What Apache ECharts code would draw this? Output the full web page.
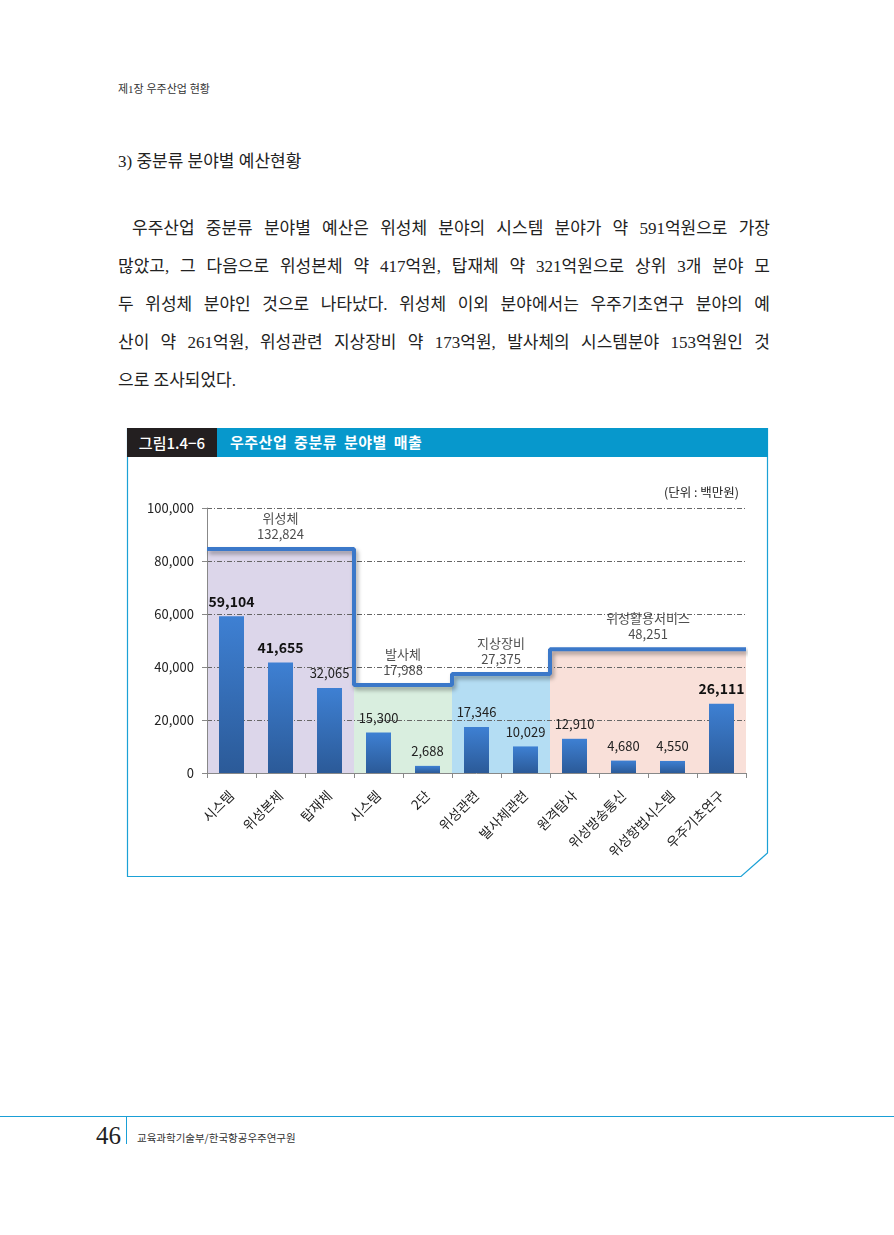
<!DOCTYPE html>
<html>
<head>
<meta charset="utf-8">
<script src="https://cdn.jsdelivr.net/npm/echarts@6/dist/echarts.min.js"></script>
<style>
  html, body { margin: 0; padding: 0; background: #fff; }
  body { width: 894px; height: 1235px; position: relative; overflow: hidden;
         font-family: "Liberation Serif", "Noto Sans CJK KR", serif; color: #222; }
  .abs { position: absolute; white-space: nowrap; }
  .hdr { left: 118px; top: 80px; font-size: 11px; color: #333; }
  .h3 { left: 118px; top: 147px; font-size: 17px; color: #222; }
  .line { position: absolute; left: 118px; width: 652px; font-size: 17px; color: #222;
          text-align: justify; text-align-last: justify; white-space: nowrap; height: 24px; line-height: 24px; }
  .line.last { text-align-last: left; }
  #titlebar { position: absolute; left: 127px; top: 428px; width: 641px; height: 29px; background: #0798cc; }
  #tlabel { position: absolute; left: 0; top: 0; width: 90px; height: 29px; background: #231f20; color: #fff;
            font-family: "Noto Sans CJK KR", sans-serif; font-size: 15px; font-weight: 500; line-height: 29px; text-align: center; }
  #ttext { position: absolute; left: 103px; top: 0; height: 29px; color: #fff; line-height: 28px;
           font-family: "Noto Sans CJK KR", sans-serif; font-size: 15px; font-weight: bold; letter-spacing: 0.5px; word-spacing: 3px; }
  #chart { position: absolute; left: 128px; top: 458px; width: 638px; height: 417px; }
  #footline { position: absolute; left: 0; top: 1116px; width: 894px; height: 1px; background: #1a9fd6; }
  #footv { position: absolute; left: 126px; top: 1116px; width: 1px; height: 28px; background: #1a9fd6; }
  .pnum { left: 96px; top: 1122px; font-size: 25px; color: #222; }
  .ftxt { left: 137px; top: 1130px; font-size: 10.5px; color: #333; font-family: "Noto Sans CJK KR", sans-serif; }
</style>
</head>
<body>
<div class="abs hdr">제1장 우주산업 현황</div>
<div class="abs h3">3) 중분류 분야별 예산현황</div>
<div class="line" style="top:217px; padding-left:14px; width:638px;">우주산업 중분류 분야별 예산은 위성체 분야의 시스템 분야가 약 591억원으로 가장</div>
<div class="line" style="top:255px;">많았고, 그 다음으로 위성본체 약 417억원, 탑재체 약 321억원으로 상위 3개 분야 모</div>
<div class="line" style="top:293px;">두 위성체 분야인 것으로 나타났다. 위성체 이외 분야에서는 우주기초연구 분야의 예</div>
<div class="line" style="top:331px;">산이 약 261억원, 위성관련 지상장비 약 173억원, 발사체의 시스템분야 153억원인 것</div>
<div class="line last" style="top:369px;">으로 조사되었다.</div>

<svg class="abs" style="left:0;top:0;" width="894" height="1235">
  <polygon points="127.5,428.5 767.5,428.5 767.5,853 741,876.5 127.5,876.5" fill="#fff" stroke="#1ba1d6" stroke-width="1.2"/>
</svg>
<div id="titlebar"><div id="tlabel">그림1.4−6</div><div id="ttext">우주산업 중분류 분야별 매출</div></div>
<div id="chart"></div>

<div id="footline"></div>
<div id="footv"></div>
<div class="abs pnum">46</div>
<div class="abs ftxt">교육과학기술부/한국항공우주연구원</div>

<script>
// ---- data ----
const categories = ['시스템','위성본체','탑재체','시스템','2단','위성관련','발사체관련','원격탐사','위성방송통신','위성항법시스템','우주기초연구'];
const values = [59104, 41655, 32065, 15300, 2688, 17346, 10029, 12910, 4680, 4550, 26111];
const groupNames = ['위성체', '발사체', '지상장비', '위성활용서비스'];
const groupSizes = [3, 2, 2, 4];
const groupTotals = [132824, 17988, 27375, 48251];
const yTickValues = [0, 20000, 40000, 60000, 80000, 100000];
const unitLabel = '(단위 : 백만원)';

// ---- styling ----
const FONT = '"Noto Sans CJK KR", "Noto Sans", sans-serif';
const shadeColors = ['#dcd6ea', '#d9eedf', '#b4ddf3', '#f9e0d9'];
const boldIdx = [0, 1, 10];
const fmt = v => Math.round(v).toLocaleString('en-US');

// group boundaries
const bounds = [0];
groupSizes.forEach(s => bounds.push(bounds[bounds.length - 1] + s));

const stepData = [];
groupTotals.forEach((t, i) => { stepData.push([bounds[i], t]); stepData.push([bounds[i + 1], t]); });

const shadeSeries = groupTotals.map((t, i) => ({
  type: 'line', xAxisIndex: 1, yAxisIndex: 1, z: -1, silent: true,
  data: [[bounds[i], t], [bounds[i + 1], t]],
  symbol: 'none', lineStyle: { width: 0 },
  areaStyle: { color: shadeColors[i], opacity: 1, origin: 'start' }
}));

const chart = echarts.init(document.getElementById('chart'), null, { renderer: 'canvas' });
chart.setOption({
  animation: false,
  title: { text: unitLabel, right: 22, top: 23, textStyle: { fontFamily: FONT, fontSize: 12.5, fontWeight: 'normal', color: '#222' } },
  grid: { left: 79, right: 20, top: 50, bottom: 102 },
  xAxis: [
    { type: 'category', data: categories,
      axisLine: { lineStyle: { color: '#888' } },
      axisTick: { show: true, length: 5, lineStyle: { color: '#888' } },
      axisLabel: { interval: 0, rotate: 45, margin: 20, fontFamily: FONT, fontSize: 13.5, color: '#222' } },
    { type: 'value', min: 0, max: categories.length, show: false }
  ],
  yAxis: [
    { type: 'value', min: yTickValues[0], max: yTickValues[yTickValues.length - 1], interval: yTickValues[1] - yTickValues[0],
      axisLine: { show: true, lineStyle: { color: '#888' } },
      axisTick: { show: true, length: 5, lineStyle: { color: '#888' } },
      axisLabel: { margin: 13, fontFamily: FONT, fontSize: 13, color: '#222', formatter: v => fmt(v) },
      splitLine: { show: true, lineStyle: { color: '#666', width: 1, type: [5, 2, 1, 2] } } },
    { type: 'value', min: -56300, max: 167500, show: false, splitLine: { show: false } }
  ],
  series: [
    ...shadeSeries,
    { type: 'bar', xAxisIndex: 0, yAxisIndex: 0, barWidth: 25, z: 3,
      data: values.map((v, i) => ({
        value: v,
        label: boldIdx.includes(i) ? { fontWeight: 'bold', fontSize: 14, color: '#111' } : {}
      })),
      itemStyle: { color: new echarts.graphic.LinearGradient(0, 0, 0, 1, [
        { offset: 0, color: '#3e80d3' }, { offset: 1, color: '#2b5a98' }]) },
      label: { show: true, position: 'top', distance: 8, fontFamily: FONT, fontSize: 13, color: '#222',
               formatter: p => fmt(p.value) } },
    { type: 'line', xAxisIndex: 1, yAxisIndex: 1, z: 4, data: stepData, symbol: 'none',
      lineStyle: { color: '#3b78c9', width: 4, shadowColor: 'rgba(0,0,0,0.35)', shadowBlur: 4, shadowOffsetX: 2, shadowOffsetY: 3 } },
    { type: 'scatter', xAxisIndex: 1, yAxisIndex: 1, z: 5, symbolSize: 2, itemStyle: { color: 'rgba(0,0,0,0)' },
      data: groupTotals.map((t, i) => ({ name: groupNames[i], value: [(bounds[i] + bounds[i + 1]) / 2, t] })),
      label: { show: true, position: 'top', distance: 6, fontFamily: FONT, fontSize: 13, color: '#222', lineHeight: 16,
               align: 'center', formatter: p => p.name + '\n' + fmt(p.value[1]) } }
  ]
});
</script>
</body>
</html>
